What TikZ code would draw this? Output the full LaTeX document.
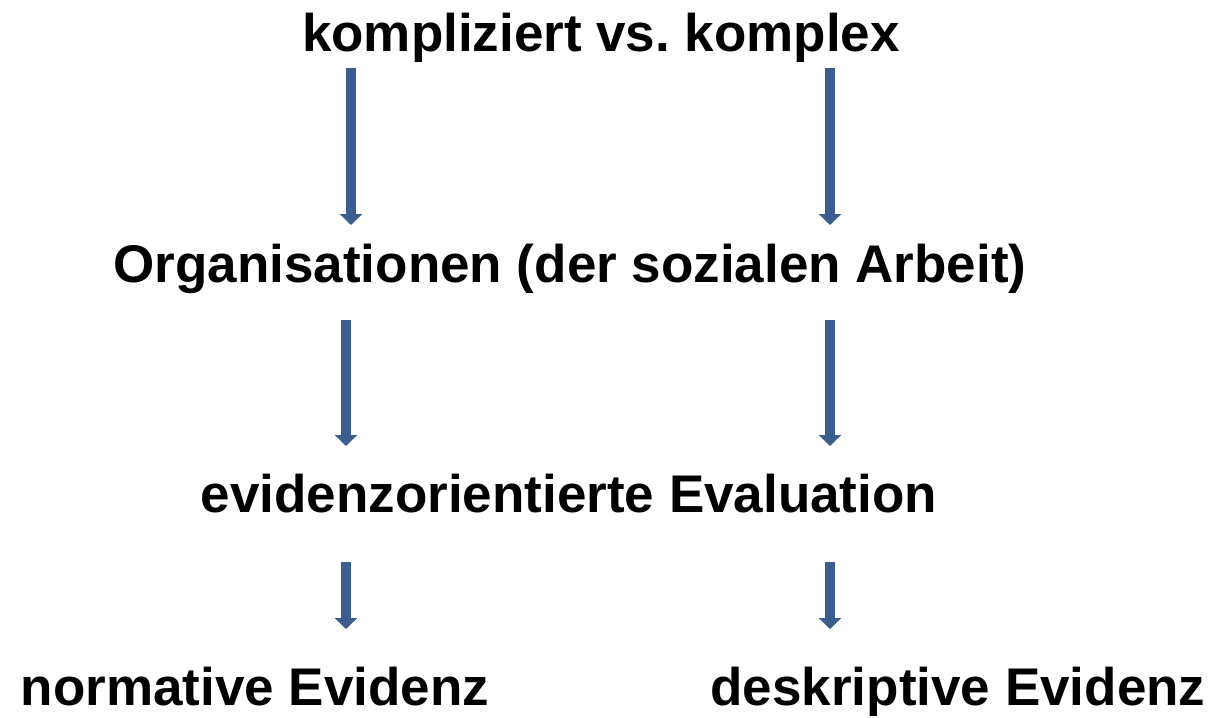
\documentclass[tikz,border=0pt]{standalone}
\usepackage{fontspec}
\setmainfont{Liberation Sans}
\usetikzlibrary{arrows.meta}
\frenchspacing
\definecolor{arrowblue}{RGB}{59,94,142}
\tikzset{
  label text/.style={anchor=base, inner sep=0pt, font=\fontsize{53}{60}\selectfont\bfseries, text=black},
  down arrow/.style={draw=arrowblue, line width=10.5pt, -{Triangle[width=22pt,length=11pt]}}
}
\begin{document}
\begin{tikzpicture}[x=1pt,y=-1pt]
\useasboundingbox (0,0) rectangle (1214,717);
% texts
\node[label text] (title) at (601,52) {kompliziert vs.\ komplex};
\node[label text] (org) at (570,282) {Organisationen (der sozialen Arbeit)};
\node[label text] (eval) at (569,512) {evidenzorientierte Evaluation};
\node[label text] (norm) at (255,705) {normative Evidenz};
\node[label text] (desk) at (958,705) {deskriptive Evidenz};
% arrow end points
\coordinate (a1ls) at (351,68);  \coordinate (a1le) at (351,225);
\coordinate (a1rs) at (830,68);  \coordinate (a1re) at (830,225);
\coordinate (a2ls) at (346,320); \coordinate (a2le) at (346,446);
\coordinate (a2rs) at (830,320); \coordinate (a2re) at (830,446);
\coordinate (a3ls) at (346,562); \coordinate (a3le) at (346,629);
\coordinate (a3rs) at (830,562); \coordinate (a3re) at (830,629);
% arrows
\draw[down arrow] (a1ls) -- (a1le);
\draw[down arrow] (a1rs) -- (a1re);
\draw[down arrow] (a2ls) -- (a2le);
\draw[down arrow] (a2rs) -- (a2re);
\draw[down arrow] (a3ls) -- (a3le);
\draw[down arrow] (a3rs) -- (a3re);
\end{tikzpicture}
\end{document}
